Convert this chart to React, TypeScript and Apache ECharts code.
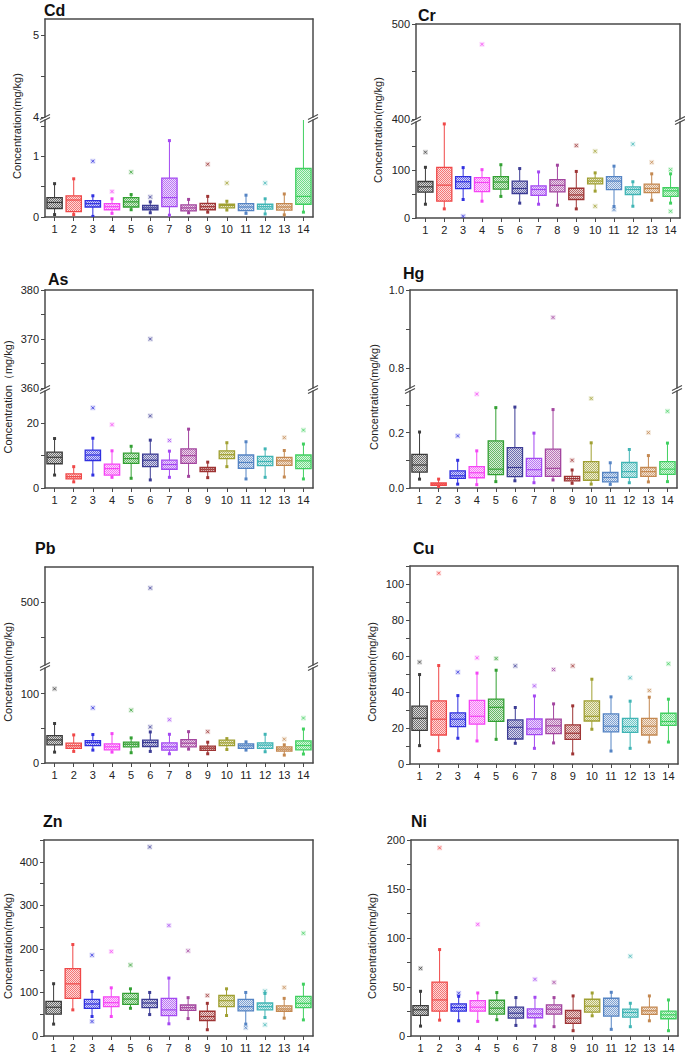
import React, { useEffect, useRef } from "react";
import * as echarts from "echarts";

// ---------- data ----------
const CATEGORIES = ["1", "2", "3", "4", "5", "6", "7", "8", "9", "10", "11", "12", "13", "14"];
const COLORS = [
  "#3c3c3c", "#f04848", "#3030e0", "#f545f5", "#33a033", "#3b3b94", "#a448f2",
  "#a3459f", "#9e3434", "#a0a032", "#5584c4", "#40b5b5", "#c48850", "#40d060",
];

// stats per site: [min, Q1, median, Q3, max]
const cdStats = [
  [0.04, 0.14, 0.24, 0.32, 0.55], [0.04, 0.09, 0.28, 0.35, 0.63], [0.01, 0.165, 0.22, 0.27, 0.35],
  [0.06, 0.12, 0.17, 0.22, 0.3], [0.12, 0.165, 0.25, 0.32, 0.37], [0.07, 0.12, 0.15, 0.19, 0.25],
  [0.03, 0.17, 0.32, 0.64, 1.26], [0.07, 0.1, 0.15, 0.2, 0.29], [0.08, 0.12, 0.17, 0.225, 0.34],
  [0.115, 0.15, 0.19, 0.21, 0.26], [0.06, 0.105, 0.165, 0.22, 0.36], [0.05, 0.13, 0.17, 0.21, 0.3],
  [0.035, 0.115, 0.165, 0.22, 0.38], [0.08, 0.21, 0.34, 0.8, 3.9],
];
const cdOut = [[2, 0.92], [3, 0.42], [4, 0.74], [5, 0.33], [8, 0.87], [9, 0.56], [11, 0.56]];

const crStats = [
  [28.7, 53.8, 65, 76, 105.6], [19, 35, 68.5, 105.6, 196], [38.5, 61, 75.5, 86, 105],
  [35, 55, 74, 84, 100.7], [45, 60, 75, 86, 111], [31, 51, 61.5, 77, 103],
  [28.7, 47, 59.4, 67, 96], [26.6, 54.5, 68, 80, 110], [19, 38.5, 48, 62, 97],
  [56, 71, 77, 83, 94], [24, 59, 77, 86, 108], [24.5, 49, 59.4, 65, 75.5],
  [37, 53, 61.5, 70.6, 92], [31, 45, 56.6, 63, 92],
];
const crOut = [[0, 137], [2, 3.5], [3, 478.6], [8, 151], [9, 139], [9, 24.5], [10, 17.5], [11, 154], [12, 116], [13, 100.7], [13, 14]];

const asStats = [
  [4, 7.5, 9.5, 11.1, 15.3], [1.9, 2.8, 3.5, 4.35, 6.6], [4, 8.5, 10.2, 11.7, 15.4],
  [3.3, 4, 6, 7.4, 11.5], [3, 7.6, 9.1, 10.8, 12.9], [2.5, 6.6, 8.6, 10.5, 14.8],
  [3.3, 5.8, 7.25, 8.6, 11.4], [3.6, 7.6, 10, 12.1, 18.2], [3.2, 5.1, 5.8, 6.4, 8],
  [6.6, 9.1, 10.3, 11.5, 14], [2.8, 6.1, 7.9, 10.2, 14.3], [3.3, 6.9, 8.2, 9.8, 12.1],
  [3.4, 7, 8.4, 9.5, 11.6], [2.8, 6, 8.4, 10.2, 13.6],
];
const asOut = [[2, 24.8], [3, 19.6], [5, 22.3], [5, 370], [6, 14.7], [12, 15.6], [13, 17.9]];

const hgStats = [
  [0.032, 0.0575, 0.083, 0.121, 0.202], [0.005, 0.0096, 0.014, 0.018, 0.032], [0.014, 0.035, 0.044, 0.062, 0.1],
  [0.012, 0.037, 0.055, 0.077, 0.134], [0.023, 0.048, 0.068, 0.17, 0.29], [0.026, 0.041, 0.074, 0.146, 0.292],
  [0.019, 0.042, 0.066, 0.107, 0.198], [0.029, 0.042, 0.071, 0.14, 0.283], [0.017, 0.026, 0.034, 0.042, 0.065],
  [0.014, 0.028, 0.057, 0.095, 0.163], [0.013, 0.022, 0.038, 0.056, 0.091], [0.019, 0.038, 0.059, 0.092, 0.139],
  [0.022, 0.042, 0.059, 0.074, 0.117], [0.023, 0.049, 0.068, 0.095, 0.162],
];
const hgOut = [[2, 0.188], [3, 0.339], [7, 0.93], [8, 0.1], [9, 0.323], [12, 0.2], [13, 0.277]];

const pbStats = [
  [15.7, 26.2, 33.3, 39.5, 57], [16.7, 21, 24.8, 28.6, 40.5], [18.6, 25.2, 29.5, 32.4, 41],
  [15.7, 19, 23.3, 27.6, 42.4], [14.8, 23.3, 27.1, 30, 36.2], [16.7, 23.8, 29.5, 32.9, 44.8],
  [13.3, 18.6, 23.3, 29, 41.4], [20, 23.3, 28.6, 33.8, 45.2], [13.3, 18.1, 21.4, 24.3, 30],
  [19.5, 25.2, 29, 32.9, 35.2], [18.6, 21, 24.8, 27.6, 30.5], [16.2, 21, 25.7, 29, 41.4],
  [11.4, 17.1, 20, 23.3, 26.2], [12.9, 19, 25.2, 31.9, 49],
];
const pbOut = [[0, 107], [2, 79.5], [4, 76.2], [5, 52], [5, 520], [6, 62.4], [8, 45.2], [12, 34.3], [13, 64.8]];

const cuStats = [
  [10.2, 18.7, 25.4, 32.1, 49.7], [7.4, 16.1, 24.9, 35.1, 54.7], [14.3, 20.8, 24.9, 28.4, 38],
  [12.8, 22.1, 26.5, 35.3, 50.5], [13.7, 23.7, 31.5, 36, 52.1], [11.5, 13.9, 20.4, 24.5, 31.4],
  [8.7, 16.3, 19.5, 25, 37.8], [11.7, 16.9, 21.2, 24.9, 33.4], [5.6, 13.7, 17.1, 21.7, 32.3],
  [19.3, 23.9, 26.5, 35.1, 47.1], [7.2, 17.8, 21, 27.8, 37.3], [8.7, 17.6, 20.8, 25.4, 34.9],
  [12.2, 16.1, 21, 25.4, 37.1], [12.2, 21.5, 23.6, 28.2, 36],
];
const cuOut = [[0, 56.6], [1, 106], [2, 51], [3, 59], [4, 58.6], [5, 54.5], [6, 43.4], [7, 52.5], [8, 54.5], [11, 47.9], [12, 40.8], [13, 55.7]];

const znStats = [
  [27.3, 50, 66, 79.5, 120], [60, 86.4, 119.7, 154.5, 210], [44.7, 63.6, 73.5, 84, 102],
  [44.7, 67.4, 76.5, 90, 110.6], [63.6, 72.7, 84.8, 97.7, 108.3], [49.2, 65, 75.8, 84, 100],
  [28, 47, 60, 86.4, 133], [40, 59, 65, 71.2, 88], [14.4, 35.6, 44.7, 56.8, 75],
  [47, 67.4, 81, 93, 108.3], [27.3, 57.6, 67.4, 84, 100], [42.4, 60, 67.4, 75.8, 97.7],
  [41, 56.8, 62, 69, 86.4], [37, 65, 75, 91, 119],
];
const znOut = [[2, 185.6], [2, 33.3], [3, 194], [4, 163], [5, 434], [6, 253.8], [7, 195.5], [8, 93], [10, 19], [11, 103], [11, 25.8], [12, 111.4], [13, 236]];

const niStats = [
  [10.1, 21, 26.7, 31, 45.6], [16.2, 25.3, 36.8, 55, 88.2], [15.5, 25.3, 29, 32.8, 40.5],
  [14.9, 25.3, 29.4, 36.1, 43.9], [16.6, 22.3, 28.4, 36.5, 44.3], [10.8, 18.2, 23.3, 29.4, 39.2],
  [10.1, 18.6, 22.6, 27.7, 39.5], [9.5, 22.3, 27.4, 31.8, 39.2], [5.4, 12.8, 18.2, 26, 40.9],
  [20.6, 24.3, 30.4, 37.5, 43.9], [6.8, 20.3, 30.4, 38.5, 44.6], [9.5, 19.3, 24, 27.4, 33.4],
  [15.5, 22, 25.7, 29.4, 40.9], [5.4, 17.6, 21.6, 25.3, 36.8],
];
const niOut = [[0, 69], [1, 192], [2, 43.6], [3, 113.9], [6, 57.8], [7, 54.7], [11, 81.4]];

// axis ranges, ticks and tick labels (upper segment first)
const cdRanges = [[4, 5.2], [0, 1.6]];
const cdTicks = [[4, 4.5, 5], [0, 0.5, 1, 1.5]];
const cdLabels = [[4, 5], [0, 1]];
const crRanges = [[400, 500], [0, 200]];
const crTicks = [[400, 450, 500], [0, 50, 100, 150]];
const crLabels = [[400, 500], [0, 100]];
const asRanges = [[360, 380], [0, 30]];
const asTicks = [[360, 365, 370, 375, 380], [0, 10, 20]];
const asLabels = [[360, 370, 380], [0, 20]];
const hgRanges = [[0.75, 1.0], [0, 0.35]];
const hgTicks = [[0.8, 0.9, 1.0], [0, 0.1, 0.2, 0.3]];
const hgLabels = [[0.8, 1.0], [0, 0.2]];
const pbRanges = [[410, 550], [0, 137]];
const pbTicks = [[450, 500], [0, 50, 100]];
const pbLabels = [[500], [0, 100]];
const cuRanges = [[0, 110]];
const cuTicks = [[0, 10, 20, 30, 40, 50, 60, 70, 80, 90, 100, 110]];
const cuLabels = [[0, 20, 40, 60, 80, 100]];
const znRanges = [[0, 450]];
const znTicks = [[0, 50, 100, 150, 200, 250, 300, 350, 400, 450]];
const znLabels = [[0, 100, 200, 300, 400]];
const niRanges = [[0, 200]];
const niTicks = [[0, 25, 50, 75, 100, 125, 150, 175, 200]];
const niLabels = [[0, 50, 100, 150, 200]];

// ---------- layout ----------
const AXIS_C = "#4a4a4a";
const LABEL_FONT = '"Liberation Sans Narrow", "Liberation Sans", Arial, sans-serif';

const PANELS = [
  { title: "Cd", yName: "Concentration(mg/kg)", stats: cdStats, out: cdOut, ranges: cdRanges, ticks: cdTicks, labels: cdLabels,
    left: 45, right: 313, segs: [[19, 117], [120, 217]], tpos: [44, 2], npos: [17, 126], dec: 0 },
  { title: "Cr", yName: "Concentration(mg/kg)", stats: crStats, out: crOut, ranges: crRanges, ticks: crTicks, labels: crLabels,
    left: 416, right: 680, segs: [[24, 119], [122, 218]], tpos: [418, 7], npos: [378, 130], dec: 0 },
  { title: "As", yName: "Concentration（mg/kg)", stats: asStats, out: asOut, ranges: asRanges, ticks: asTicks, labels: asLabels,
    left: 45, right: 313, segs: [[290, 388], [391, 488]], tpos: [48, 271], npos: [8, 397], dec: 0 },
  { title: "Hg", yName: "Concentration(mg/kg)", stats: hgStats, out: hgOut, ranges: hgRanges, ticks: hgTicks, labels: hgLabels,
    left: 410, right: 677, segs: [[290, 388], [391, 488]], tpos: [403, 265], npos: [374, 397], dec: 1 },
  { title: "Pb", yName: "Concetration(mg/kg)", stats: pbStats, out: pbOut, ranges: pbRanges, ticks: pbTicks, labels: pbLabels,
    left: 45, right: 313, segs: [[567, 665], [668, 763]], tpos: [35, 540], npos: [8, 672], dec: 0 },
  { title: "Cu", yName: "Concetration(mg/kg)", stats: cuStats, out: cuOut, ranges: cuRanges, ticks: cuTicks, labels: cuLabels,
    left: 410, right: 678, segs: [[566, 764]], tpos: [413, 540], npos: [372, 672], dec: 0 },
  { title: "Zn", yName: "Concentration(mg/kg)", stats: znStats, out: znOut, ranges: znRanges, ticks: znTicks, labels: znLabels,
    left: 44, right: 313, segs: [[840, 1037]], tpos: [43, 813], npos: [8, 946], dec: 0 },
  { title: "Ni", yName: "Concentration(mg/kg)", stats: niStats, out: niOut, ranges: niRanges, ticks: niTicks, labels: niLabels,
    left: 411, right: 678, segs: [[840, 1037]], tpos: [411, 813], npos: [372, 946], dec: 0 },
];

function makePattern(color: string) {
  const c = document.createElement("canvas");
  c.width = 2;
  c.height = 2;
  const ctx = c.getContext("2d")!;
  ctx.fillStyle = color;
  ctx.globalAlpha = 0.75;
  ctx.fillRect(0, 0, 1, 1);
  ctx.fillRect(1, 1, 1, 1);
  ctx.globalAlpha = 0.2;
  ctx.fillRect(1, 0, 1, 1);
  ctx.fillRect(0, 1, 1, 1);
  return { image: c, repeat: "repeat" };
}

function buildOption() {
  const patterns = COLORS.map(makePattern);
  const renderBox = (params: any, api: any) => {
    const cat = api.value(0);
    const c = COLORS[cat];
    const bw = api.size([1, 0])[0] * 0.8;
    const cx = api.coord([cat, api.value(3)])[0];
    const y = (i: number) => api.coord([cat, api.value(i)])[1];
    const yMin = y(1), yQ1 = y(2), yMd = y(3), yQ3 = y(4), yMax = y(5);
    return {
      type: "group",
      children: [
        { type: "line", shape: { x1: cx, y1: yMax, x2: cx, y2: yQ3 }, style: { stroke: c, lineWidth: 1 } },
        { type: "line", shape: { x1: cx, y1: yQ1, x2: cx, y2: yMin }, style: { stroke: c, lineWidth: 1 } },
        { type: "rect", shape: { x: cx - bw / 2, y: yQ3, width: bw, height: yQ1 - yQ3 },
          style: { fill: patterns[cat], stroke: c, lineWidth: 1.3 } },
        { type: "line", shape: { x1: cx - bw / 2, y1: yMd, x2: cx + bw / 2, y2: yMd }, style: { stroke: c, lineWidth: 1.2 } },
        { type: "rect", shape: { x: cx - 1.5, y: yMax - 1.5, width: 3, height: 3 }, style: { fill: c } },
        { type: "rect", shape: { x: cx - 1.5, y: yMin - 1.5, width: 3, height: 3 }, style: { fill: c } },
      ],
    };
  };
  const renderOut = (params: any, api: any) => {
    const cat = api.value(0);
    const c = COLORS[cat];
    const [x, y] = api.coord([cat, api.value(1)]);
    const s = 1.5;
    return {
      type: "group",
      children: [
        { type: "rect", shape: { x: x - 2.5, y: y - 2.5, width: 5, height: 5 }, style: { fill: c, opacity: 0.18 } },
        { type: "line", shape: { x1: x - s, y1: y - s, x2: x + s, y2: y + s }, style: { stroke: c, lineWidth: 0.9, opacity: 0.85 } },
        { type: "line", shape: { x1: x - s, y1: y + s, x2: x + s, y2: y - s }, style: { stroke: c, lineWidth: 0.9, opacity: 0.85 } },
      ],
    };
  };

  const grid: any[] = [], xAxis: any[] = [], yAxis: any[] = [], series: any[] = [], graphic: any[] = [];
  const lineStyle = { color: AXIS_C, width: 1.5 };
  const labelStyle = { fontSize: 11, color: "#222", fontFamily: LABEL_FONT };

  PANELS.forEach((p) => {
    const n = p.segs.length;
    p.segs.forEach((s, i) => {
      const gi = grid.length;
      const isFirst = i === 0, isLast = i === n - 1;
      grid.push({ left: p.left, top: s[0], width: p.right - p.left, height: s[1] - s[0] });
      const xi = xAxis.length;
      xAxis.push({
        type: "category", gridIndex: gi, data: CATEGORIES, position: isLast ? "bottom" : "top", boundaryGap: true,
        axisLine: { show: true, onZero: false, lineStyle },
        axisTick: { show: isLast, alignWithLabel: true, length: 4, lineStyle: { color: AXIS_C, width: 1 } },
        axisLabel: { show: isLast, margin: 6, ...labelStyle },
        splitLine: { show: false },
      });
      if (isFirst && isLast) {
        xAxis.push({
          type: "category", gridIndex: gi, data: CATEGORIES, position: "top",
          axisLine: { show: true, onZero: false, lineStyle }, axisTick: { show: false }, axisLabel: { show: false }, splitLine: { show: false },
        });
      }
      const yi = yAxis.length;
      yAxis.push({
        type: "value", gridIndex: gi, min: p.ranges[i][0], max: p.ranges[i][1], position: "left",
        axisLine: { show: true, lineStyle },
        axisTick: { show: true, length: 4, customValues: p.ticks[i], lineStyle: { color: AXIS_C, width: 1 } },
        axisLabel: { customValues: p.labels[i], margin: 6, formatter: (v: number) => (p.dec ? v.toFixed(p.dec) : String(v)), ...labelStyle },
        splitLine: { show: false },
      });
      yAxis.push({
        type: "value", gridIndex: gi, min: 0, max: 1, position: "right",
        axisLine: { show: true, lineStyle }, axisTick: { show: false }, axisLabel: { show: false }, splitLine: { show: false },
      });
      series.push({
        type: "custom", xAxisIndex: xi, yAxisIndex: yi, clip: true, renderItem: renderBox, z: 2,
        encode: { x: 0, y: [1, 2, 3, 4, 5] },
        data: p.stats.map((st, k) => [k, ...st]),
      });
      series.push({
        type: "custom", xAxisIndex: xi, yAxisIndex: yi, clip: true, renderItem: renderOut, z: 3,
        encode: { x: 0, y: 1 },
        data: p.out,
      });
    });
    if (n === 2) {
      const yU = p.segs[0][1], yL = p.segs[1][0];
      [p.left, p.right].forEach((x) => {
        [yU, yL].forEach((yy) => {
          graphic.push({ type: "line", shape: { x1: x - 5, y1: yy + 2.5, x2: x + 5, y2: yy - 2.5 }, style: { stroke: AXIS_C, lineWidth: 1.2 }, z: 10 });
        });
      });
    }
    graphic.push({
      type: "text", x: p.tpos[0], y: p.tpos[1],
      style: { text: p.title, font: 'bold 16px "Liberation Sans Narrow", "Liberation Sans", Arial, sans-serif', fill: "#111", textVerticalAlign: "top" },
    });
    graphic.push({
      type: "text", x: p.npos[0], y: p.npos[1], rotation: Math.PI / 2,
      style: { text: p.yName, font: '11px "Liberation Sans", Arial, sans-serif', fill: "#222", textAlign: "center", textVerticalAlign: "middle" },
    });
  });

  return { animation: false, backgroundColor: "#fff", grid, xAxis, yAxis, series, graphic };
}

export default function App() {
  const ref = useRef<HTMLDivElement>(null);
  useEffect(() => {
    const chart = echarts.init(ref.current!, null, { renderer: "svg" });
    chart.setOption(buildOption() as any);
    return () => chart.dispose();
  }, []);
  return <div ref={ref} style={{ position: "absolute", left: 0, top: 0, width: 685, height: 1053, background: "#fff" }} />;
}
